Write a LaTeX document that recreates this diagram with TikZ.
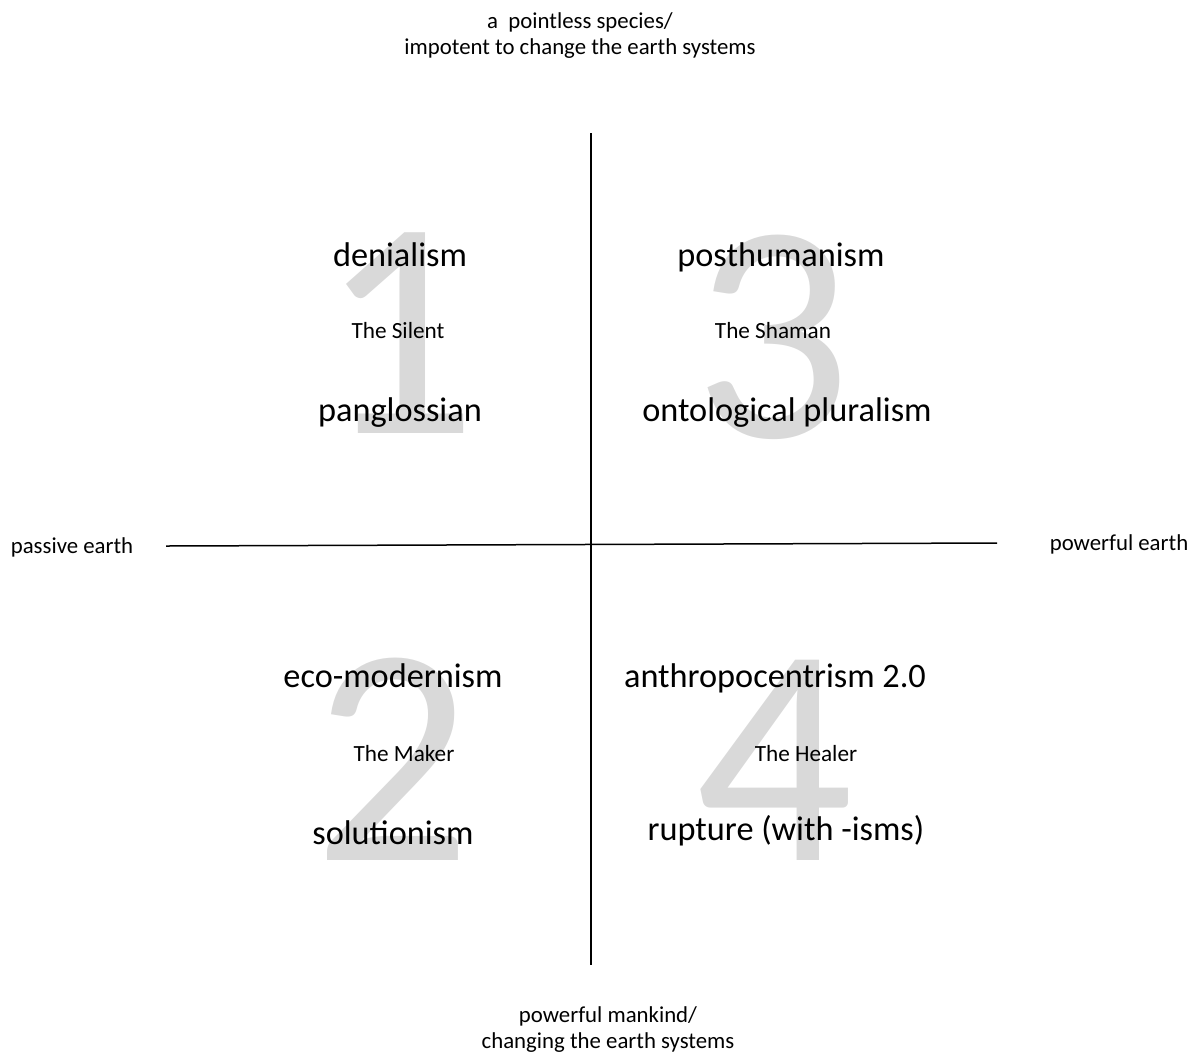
\documentclass[tikz,border=0pt]{standalone}
\usepackage{fontspec}
\setmainfont{Carlito}
\begin{document}
\begin{tikzpicture}[x=1pt,y=-1pt,
  big/.style={font=\fontsize{34.3}{40}\selectfont, anchor=base, inner sep=0pt},
  role/.style={font=\fontsize{23.2}{27}\selectfont, anchor=base, inner sep=0pt},
  axis/.style={font=\fontsize{22.8}{27}\selectfont, anchor=base, inner sep=0pt},
  numeral/.style={font=\fontsize{312}{312}\selectfont, text=black!15, anchor=base, inner sep=0pt},
  axisline/.style={line width=1.5pt, black}]
\useasboundingbox (0,0) rectangle (1198,1053);
% big numerals
\node[numeral] (n1) at (399,433) {1};
\node[numeral] (n3) at (773,437) {3};
\node[numeral] (n2) at (393,860) {2};
\node[numeral] (n4) at (775,860) {4};
% axes
\coordinate (top) at (591,133);
\coordinate (bot) at (591,965);
\coordinate (lft) at (166,546);
\coordinate (rgt) at (997,543);
\draw[axisline] (top) -- (bot);
\draw[axisline] (lft) -- (rgt);
% quadrant 1
\node[big] (denial) at (400,266) {denialism};
\node[role] (silent) at (398,338) {The Silent};
\node[big] (pang) at (400,421) {panglossian};
% quadrant 3
\node[big] (post) at (781,266) {posthumanism};
\node[role] (shaman) at (773,338) {The Shaman};
\node[big] (onto) at (787,421) {ontological pluralism};
% quadrant 2
\node[big] (eco) at (393,687) {eco-modernism};
\node[role] (maker) at (404,761) {The Maker};
\node[big] (sol) at (393,844) {solutionism};
% quadrant 4
\node[big] (anthro) at (775,687) {anthropocentrism 2.0};
\node[role] (healer) at (806,761) {The Healer};
\node[big] (rupt) at (786,840) {rupture (with -isms)};
% axis labels
\node[axis] (pe) at (72,553) {passive earth};
\node[axis] (pw) at (1119,550) {powerful earth};
\node[axis] (t1) at (580,28) {a\ \ pointless species/};
\node[axis] (t2) at (580,54) {impotent to change the earth systems};
\node[axis] (b1) at (608,1022) {powerful mankind/};
\node[axis] (b2) at (608,1048) {changing the earth systems};
\end{tikzpicture}
\end{document}
